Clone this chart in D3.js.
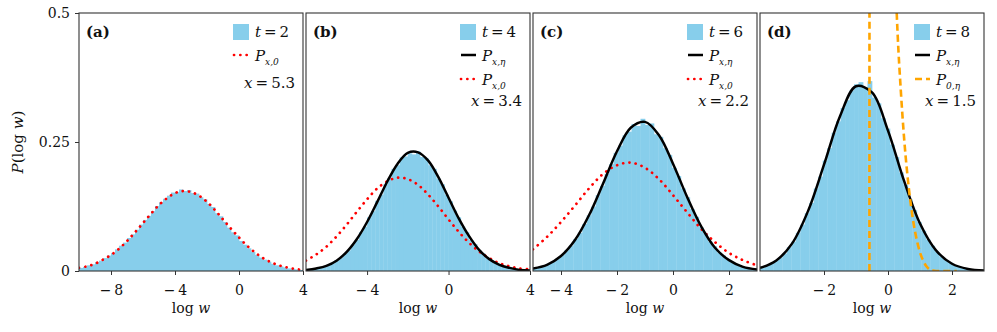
<!DOCTYPE html>
<html>
<head>
<meta charset="utf-8">
<script src="https://cdn.jsdelivr.net/npm/d3@7"></script>
<style>
  body { margin: 0; background: #fff; }
  svg { display: block; font-family: "DejaVu Serif", "Liberation Serif", serif; }
</style>
</head>
<body>
<div id="chart"></div>
<script>
// ---- valores ----
const panelLabels = ["(a)", "(b)", "(c)", "(d)"];
const times = [2, 4, 6, 8];
const xValues = ["5.3", "3.4", "2.2", "1.5"];
const xDomains = [[-10, 4], [-7, 4], [-5, 3], [-4, 3]];
const xTicks = [[-8, -4, 0, 4], [-4, 0, 4], [-4, -2, 0, 2], [-2, 0, 2]];
const yTicks = [0, 0.25, 0.5];

// histogramas: primer borde, ancho de bin, alturas
const histStart = [-10, -7, -5, -4];
const histStep = [0.25, 0.2, 0.16, 0.14];
const histA = [0.006, 0.008, 0.011, 0.013, 0.017, 0.020, 0.025, 0.030, 0.035, 0.042, 0.049, 0.055, 0.064, 0.071,
  0.080, 0.090, 0.099, 0.107, 0.116, 0.126, 0.133, 0.140, 0.146, 0.152, 0.153, 0.158, 0.155, 0.157,
  0.151, 0.150, 0.143, 0.139, 0.130, 0.124, 0.112, 0.106, 0.095, 0.084, 0.075, 0.069, 0.058, 0.051,
  0.044, 0.037, 0.031, 0.026, 0.022, 0.018, 0.014, 0.011, 0.009, 0.007, 0.005, 0.004, 0.003, 0.002];
const histB = [0.002, 0.003, 0.005, 0.006, 0.009, 0.012, 0.015, 0.021, 0.025, 0.033, 0.040, 0.051, 0.060, 0.075,
  0.086, 0.104, 0.116, 0.136, 0.148, 0.168, 0.180, 0.198, 0.205, 0.220, 0.222, 0.228, 0.226, 0.232,
  0.221, 0.219, 0.205, 0.198, 0.179, 0.168, 0.148, 0.135, 0.117, 0.104, 0.086, 0.075, 0.060, 0.052,
  0.040, 0.034, 0.025, 0.021, 0.015, 0.012, 0.009, 0.007, 0.005, 0.003, 0.002, 0.002, 0.001];
const histC = [0.005, 0.007, 0.010, 0.014, 0.018, 0.024, 0.031, 0.040, 0.049, 0.062, 0.074, 0.091, 0.108, 0.125,
  0.147, 0.165, 0.188, 0.207, 0.229, 0.243, 0.263, 0.270, 0.285, 0.281, 0.295, 0.283, 0.286, 0.265,
  0.260, 0.238, 0.225, 0.200, 0.184, 0.160, 0.143, 0.120, 0.105, 0.085, 0.073, 0.057, 0.048, 0.036,
  0.030, 0.022, 0.017, 0.013, 0.009, 0.007, 0.005, 0.003];
const histD = [0.007, 0.010, 0.014, 0.020, 0.026, 0.034, 0.046, 0.057, 0.074, 0.090, 0.112, 0.132, 0.160, 0.183,
  0.214, 0.238, 0.268, 0.290, 0.316, 0.331, 0.350, 0.362, 0.366, 0.356, 0.368, 0.336, 0.325, 0.296,
  0.276, 0.245, 0.221, 0.191, 0.167, 0.139, 0.118, 0.095, 0.078, 0.061, 0.049, 0.037, 0.028, 0.021,
  0.016, 0.011, 0.008, 0.006, 0.004, 0.003, 0.002, 0.001];

// curvas teoricas, muestreadas cada 0.5 desde el borde izquierdo
const curveStep = 0.5;
const redA = [0.006, 0.009, 0.014, 0.022, 0.031, 0.043, 0.058, 0.075, 0.093, 0.111, 0.128, 0.141, 0.151, 0.155,
  0.153, 0.146, 0.134, 0.118, 0.100, 0.082, 0.065, 0.049, 0.036, 0.025, 0.017, 0.011, 0.007, 0.004, 0.002];
const blackB = [0.002, 0.005, 0.010, 0.020, 0.037, 0.062, 0.095, 0.134, 0.174, 0.208, 0.229, 0.230, 0.214, 0.182,
  0.142, 0.102, 0.068, 0.041, 0.023, 0.012, 0.006, 0.002, 0.001];
const redB = [0.020, 0.032, 0.047, 0.067, 0.090, 0.115, 0.139, 0.160, 0.174, 0.181, 0.178, 0.167, 0.148, 0.125,
  0.100, 0.076, 0.055, 0.038, 0.025, 0.015, 0.009, 0.005, 0.003];
const blackC = [0.005, 0.012, 0.029, 0.060, 0.108, 0.169, 0.232, 0.278, 0.289, 0.263, 0.208, 0.144, 0.087, 0.045,
  0.021, 0.008, 0.003];
const redC = [0.042, 0.066, 0.095, 0.127, 0.160, 0.188, 0.205, 0.210, 0.200, 0.178, 0.147, 0.114, 0.082, 0.056,
  0.035, 0.021, 0.011];
const blackD = [0.006, 0.020, 0.053, 0.116, 0.206, 0.300, 0.358, 0.346, 0.272, 0.175, 0.092, 0.040, 0.014, 0.004, 0.001];
// P_{0,eta} del panel (d): se sale por arriba del eje
const orangeX = [-0.58, -0.57, -0.3, 0, 0.2, 0.3, 0.4, 0.5, 0.6, 0.7, 0.8, 0.9, 1.0, 1.1, 1.2, 1.3, 1.4, 1.6, 1.8, 2.0, 2.15];
const orangeY = [0, 3.0, 1.6, 0.95, 0.62, 0.46, 0.35, 0.26, 0.19, 0.135, 0.092, 0.06, 0.036, 0.02, 0.009, 0.003, 0.001, 0, 0, 0, 0];

// ---- estilos ----
const skyblue = "#87ceeb";
const fontStack = "'DejaVu Serif', 'Liberation Serif', serif";
const styles = {
  red: { stroke: "red", width: 2.7, dash: "0.1 6.2", cap: "round" },
  black: { stroke: "black", width: 2.5, dash: null, cap: "butt" },
  orange: { stroke: "orange", width: 2.6, dash: "7 4", cap: "butt" }
};

const W = 997, H = 332;
const plotTop = 13, plotBottom = 271;
const panelLeft0 = 79, panelW = 224, panelGap = 3;

const svg = d3.select("#chart").append("svg").attr("width", W).attr("height", H)
  .attr("font-family", fontStack);
svg.append("rect").attr("width", W).attr("height", H).attr("fill", "#fff");

const y = d3.scaleLinear().domain([0, 0.5]).range([plotBottom, plotTop]);

function toPoints(start, values) {
  return values.map((v, i) => [start + i * curveStep, v]);
}

const panels = [
  { hist: histA, curves: [{ key: "red", pts: toPoints(-10, redA) }],
    legend: [{ key: "red", label: "x,0" }] },
  { hist: histB, curves: [{ key: "red", pts: toPoints(-7, redB) }, { key: "black", pts: toPoints(-7, blackB) }],
    legend: [{ key: "black", label: "x,η" }, { key: "red", label: "x,0" }] },
  { hist: histC, curves: [{ key: "red", pts: toPoints(-5, redC) }, { key: "black", pts: toPoints(-5, blackC) }],
    legend: [{ key: "black", label: "x,η" }, { key: "red", label: "x,0" }] },
  { hist: histD, curves: [{ key: "black", pts: toPoints(-4, blackD) },
      { key: "orange", pts: orangeX.map((v, i) => [v, orangeY[i]]), monotone: true }],
    legend: [{ key: "black", label: "x,η" }, { key: "orange", label: "0,η" }] }
];

function minusFmt(d) {
  return d < 0 ? "\u2212\u2009" + Math.abs(d) : String(d);
}

panels.forEach((p, k) => {
  const left = panelLeft0 + k * (panelW + panelGap);
  const right = left + panelW;
  const x = d3.scaleLinear().domain(xDomains[k]).range([left, right]);
  const g = svg.append("g");

  const clipId = "clip" + k;
  svg.append("clipPath").attr("id", clipId).append("rect")
    .attr("x", left).attr("y", plotTop).attr("width", panelW).attr("height", plotBottom - plotTop);

  // barras del histograma
  const s0 = histStart[k], st = histStep[k];
  g.append("g").attr("clip-path", `url(#${clipId})`)
    .selectAll("rect")
    .data(p.hist)
    .join("rect")
    .attr("x", (d, i) => x(s0 + i * st))
    .attr("width", (d, i) => x(s0 + (i + 1) * st) - x(s0 + i * st) + 0.35)
    .attr("y", d => y(d))
    .attr("height", d => y(0) - y(d))
    .attr("fill", skyblue);

  // curvas
  const cg = g.append("g").attr("clip-path", `url(#${clipId})`);
  p.curves.forEach(c => {
    const sty = styles[c.key];
    const line = d3.line().x(d => x(d[0])).y(d => y(d[1]))
      .curve(c.monotone ? d3.curveMonotoneX : d3.curveCatmullRom);
    cg.append("path")
      .attr("d", line(c.pts))
      .attr("fill", "none")
      .attr("stroke", sty.stroke)
      .attr("stroke-width", sty.width)
      .attr("stroke-linecap", sty.cap)
      .attr("stroke-dasharray", sty.dash);
  });

  // marco
  g.append("rect")
    .attr("x", left).attr("y", plotTop).attr("width", panelW).attr("height", plotBottom - plotTop)
    .attr("fill", "none").attr("stroke", "#333").attr("stroke-width", 1.1);

  // eje x
  const ax = g.append("g")
    .attr("transform", `translate(0,${plotBottom})`)
    .call(d3.axisBottom(x).tickValues(xTicks[k]).tickFormat(minusFmt).tickSize(4).tickPadding(10));
  ax.select(".domain").remove();
  ax.selectAll("line").attr("stroke", "#333");
  ax.attr("font-family", fontStack).attr("font-size", 14);
  ax.selectAll("text").attr("fill", "#111");

  const xl = g.append("text")
    .attr("x", (left + right) / 2).attr("y", 313)
    .attr("text-anchor", "middle").attr("font-size", 14).attr("fill", "#111");
  xl.append("tspan").text("log ");
  xl.append("tspan").attr("font-style", "italic").text("w");

  // eje y solo en el primer panel
  if (k === 0) {
    const ay = g.append("g")
      .attr("transform", `translate(${left},0)`)
      .call(d3.axisLeft(y).tickValues(yTicks).tickFormat(d => d === 0 ? "0" : String(d)).tickSize(4).tickPadding(5));
    ay.select(".domain").remove();
    ay.selectAll("line").attr("stroke", "#333");
    ay.attr("font-family", fontStack).attr("font-size", 14);
    ay.selectAll("text").attr("fill", "#111");
  }

  // etiqueta del panel
  g.append("text")
    .attr("x", left + 7).attr("y", 37)
    .attr("font-size", 15).attr("font-weight", "bold").attr("fill", "#111")
    .text(panelLabels[k]);

  // leyenda
  const lx = right - 70, tx = right - 48;
  g.append("rect").attr("x", lx).attr("y", 24).attr("width", 16).attr("height", 16).attr("fill", skyblue);
  const t1 = g.append("text").attr("x", tx).attr("y", 37).attr("font-size", 15).attr("fill", "#111");
  t1.append("tspan").attr("font-style", "italic").text("t");
  t1.append("tspan").text("\u2009=\u2009" + times[k]);

  const rowY = [55, 79];
  p.legend.forEach((item, r) => {
    const sty = styles[item.key];
    g.append("line")
      .attr("x1", lx + 1).attr("x2", lx + 16)
      .attr("y1", rowY[r]).attr("y2", rowY[r])
      .attr("stroke", sty.stroke).attr("stroke-width", sty.width)
      .attr("stroke-linecap", sty.cap).attr("stroke-dasharray", sty.dash);
    const t = g.append("text").attr("x", tx).attr("y", rowY[r] + 6).attr("font-size", 15).attr("fill", "#111");
    t.append("tspan").attr("font-style", "italic").text("P");
    t.append("tspan").attr("font-style", "italic").attr("font-size", 9).attr("dy", 4).text(item.label);
  });

  const xt = g.append("text")
    .attr("x", right - 8).attr("y", p.legend.length === 1 ? 88 : 106)
    .attr("text-anchor", "end").attr("font-size", 15).attr("fill", "#111");
  xt.append("tspan").attr("font-style", "italic").text("x");
  xt.append("tspan").text("\u2009=\u2009" + xValues[k]);
});

// titulo del eje y
const yl = svg.append("text")
  .attr("transform", `translate(23,${(plotTop + plotBottom) / 2}) rotate(-90)`)
  .attr("text-anchor", "middle").attr("font-size", 15).attr("fill", "#111");
yl.append("tspan").attr("font-style", "italic").text("P");
yl.append("tspan").text("(log ");
yl.append("tspan").attr("font-style", "italic").text("w");
yl.append("tspan").text(")");
</script>
</body>
</html>
